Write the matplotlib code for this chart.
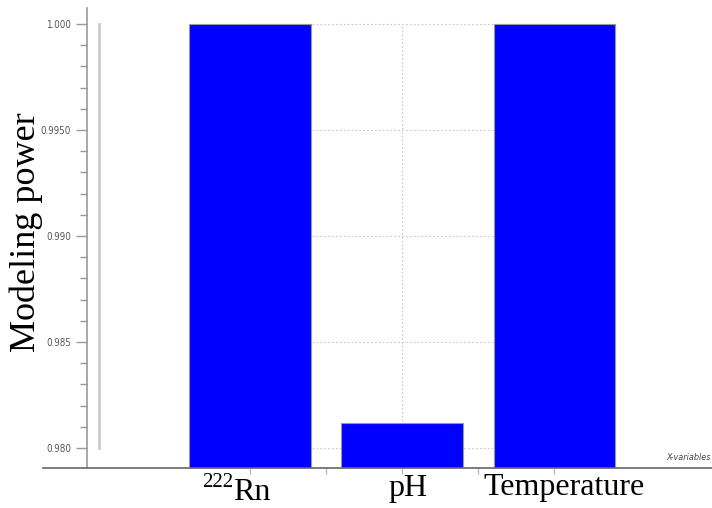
import matplotlib
matplotlib.use("Agg")
import matplotlib.pyplot as plt
from matplotlib.lines import Line2D
from matplotlib.ticker import MultipleLocator, FixedFormatter, FixedLocator

categories = ["Rn", "pH", "Temperature"]
rn_mass_number = "222"
values = [1.000, 0.98118, 1.000]
ytick_values = [0.980, 0.985, 0.990, 0.995, 1.000]
ytick_labels = ["0.980", "0.985", "0.990", "0.9950", "1.000"]

W, H = 712, 508
PT = 72 / 100  # points per pixel at 100 dpi

fig = plt.figure(figsize=(W / 100, H / 100), dpi=100)
ax = fig.add_axes([87 / W, 40 / H, (W - 87) / W, 460 / H])

x = list(range(len(categories)))
ax.bar(x, values, width=0.8, color="#0000ff", edgecolor="#999999", linewidth=0.8, zorder=3)

ax.set_xlim(-1.072, 3.036)
ax.set_ylim(0.97906, 1.00075)

ax.yaxis.set_major_locator(FixedLocator(ytick_values))
ax.yaxis.set_major_formatter(FixedFormatter(ytick_labels))
ax.yaxis.set_minor_locator(MultipleLocator(0.001))
ax.tick_params(axis="y", which="major", length=8, color="#999999", labelsize=7,
               labelcolor="#555555", width=1)
ax.tick_params(axis="y", which="minor", length=5, color="#999999", width=1)
for lbl in ax.get_yticklabels():
    lbl.set_fontstretch("condensed")

ax.set_xticks([0, 0.5, 1, 1.5, 2])
ax.set_xticklabels([])
ax.tick_params(axis="x", which="major", length=4, color="#bbbbbb", width=1)

# category labels under the axis (horizontal offsets in pixels)
label_dx = [-17, 6, 10]
label_ha = ["left", "center", "center"]
label_base = [-32, -28, -27]
for xi, name, dx, ha, dy in zip(x, categories, label_dx, label_ha, label_base):
    ax.annotate(name, xy=(xi, 0), xycoords=("data", "axes fraction"),
                xytext=(dx * PT, dy * PT), textcoords="offset points", ha=ha,
                va="baseline", fontsize=23, family="Liberation Serif")
ax.annotate(rn_mass_number, xy=(0, 0), xycoords=("data", "axes fraction"),
            xytext=(-17 * PT, -19 * PT), textcoords="offset points", ha="right",
            va="baseline", fontsize=15, family="Liberation Serif")

# dotted grid spanning the gap between the outer bars
grid_style = dict(linestyles=(0, (1.5, 2)), colors="#c8c8c8", linewidth=0.8, zorder=0)
ax.hlines(ytick_values, 0, 2, **grid_style)
ax.vlines(1, 0.980, 1.000, **grid_style)

for side in ["top", "right"]:
    ax.spines[side].set_visible(False)
ax.spines["left"].set_color("#999999")
ax.spines["left"].set_linewidth(1.2)
ax.spines["bottom"].set_visible(False)

# horizontal base line running under the whole plot
fig.add_artist(Line2D([43 / W, 1.0], [40 / H, 40 / H], color="#666666", linewidth=1.2))
# light vertical guide inside the plot area
ax.plot([-0.99, -0.99], [0.980, 1.000], color="#cccccc", linewidth=2, zorder=1)

fig.text(26 / W, (H - 232) / H, "Modeling power", rotation=90, ha="center", va="center",
         fontsize=26, family="Liberation Serif")
fig.text(711 / W, 51 / H, "X-variables", ha="right", va="center", fontsize=6.5,
         style="italic", color="#444444", fontstretch="condensed")

fig.savefig("out.png", dpi=100)
